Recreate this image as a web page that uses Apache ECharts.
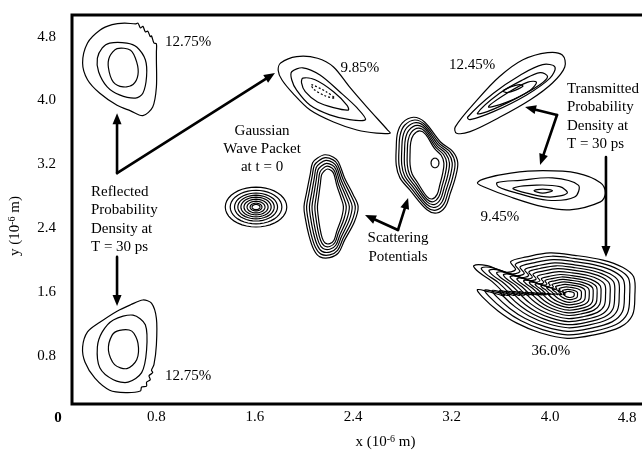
<!DOCTYPE html>
<html><head><meta charset="utf-8">
<script src="https://cdn.jsdelivr.net/npm/echarts@6/dist/echarts.min.js"></script>
<style>html,body{margin:0;padding:0;background:#fff}#c{width:642px;height:456px}</style>
</head><body><div id="c"></div>
<script>
// ---------- tick labels ----------
const xTicks = [0.8, 1.6, 2.4, 3.2, 4.0];
const yTicks = [0.8, 1.6, 2.4, 3.2, 4.0, 4.8];

// ---------- reflected packets (12.75 %) ----------
const reflTopOuter = [[0.34,4.88],[0.44,4.95],[0.54,4.97],[0.63,4.96],[0.65,4.97],[0.67,4.91],[0.69,4.93],[0.71,4.86],[0.73,4.87],[0.75,4.80],[0.76,4.81],[0.78,4.72],[0.80,4.71],[0.80,4.61],[0.80,4.51],[0.80,4.17],[0.77,3.92],[0.69,3.81],[0.59,3.87],[0.48,3.94],[0.34,4.09],[0.24,4.26],[0.20,4.47],[0.24,4.72]];
const reflTopMid = [[0.42,4.72],[0.56,4.72],[0.64,4.67],[0.71,4.51],[0.72,4.30],[0.69,4.09],[0.63,4.03],[0.50,4.07],[0.40,4.17],[0.33,4.36],[0.32,4.53],[0.36,4.66]];
const reflTopInner = [[0.48,4.65],[0.59,4.63],[0.64,4.48],[0.65,4.32],[0.61,4.20],[0.53,4.17],[0.45,4.23],[0.41,4.41],[0.42,4.55]];
const reflBotOuter = [[0.34,1.22],[0.48,1.36],[0.59,1.44],[0.69,1.50],[0.76,1.46],[0.80,1.27],[0.80,0.94],[0.78,0.69],[0.76,0.62],[0.77,0.59],[0.74,0.55],[0.75,0.50],[0.72,0.47],[0.72,0.42],[0.68,0.41],[0.67,0.36],[0.55,0.34],[0.42,0.37],[0.30,0.52],[0.22,0.72],[0.20,0.91],[0.24,1.10]];
const reflBotMid = [[0.45,1.25],[0.61,1.31],[0.71,1.19],[0.72,0.87],[0.68,0.59],[0.57,0.47],[0.45,0.50],[0.34,0.65],[0.32,0.91],[0.36,1.10]];
const reflBotInner = [[0.50,1.12],[0.60,1.11],[0.65,0.96],[0.64,0.75],[0.56,0.64],[0.46,0.69],[0.41,0.87],[0.44,1.06]];

// ---------- reflected teardrop (9.85 %) ----------
const tearOuter = [[1.81,4.47],[1.94,4.55],[2.11,4.53],[2.24,4.42],[2.37,4.17],[2.51,3.92],[2.68,3.63],[2.70,3.59],[2.59,3.59],[2.43,3.63],[2.24,3.73],[2.05,3.88],[1.91,4.09],[1.82,4.26],[1.79,4.38]];
const tearMid = [[1.90,4.36],[1.99,4.41],[2.13,4.32],[2.29,4.11],[2.43,3.91],[2.50,3.76],[2.37,3.76],[2.21,3.82],[2.05,3.94],[1.94,4.13],[1.90,4.26]];
const tearInner = [[1.99,4.28],[2.09,4.26],[2.24,4.11],[2.35,3.94],[2.36,3.88],[2.24,3.91],[2.11,3.98],[2.01,4.11],[1.98,4.22]];
const tearCore = [[2.06,4.20],[2.18,4.11],[2.25,4.03],[2.17,4.06],[2.08,4.14]];

// ---------- transmitted upper (12.45 %) ----------
const upRing1 = [[3.23,3.67],[3.41,4.01],[3.59,4.30],[3.78,4.51],[3.98,4.60],[4.10,4.57],[4.12,4.42],[4.02,4.22],[3.84,4.01],[3.59,3.79],[3.35,3.61],[3.24,3.59]];
const upRing2 = [[3.33,3.79],[3.54,4.09],[3.76,4.32],[3.94,4.45],[4.04,4.42],[4.00,4.28],[3.81,4.07],[3.54,3.86],[3.35,3.76]];
const upRing3 = [[3.41,3.84],[3.59,4.09],[3.78,4.26],[3.92,4.35],[3.98,4.30],[3.92,4.20],[3.73,4.03],[3.49,3.86]];
const upRing4 = [[3.50,3.92],[3.65,4.09],[3.82,4.23],[3.89,4.23],[3.84,4.13],[3.65,3.98]];
const upRing5 = [[3.62,4.12],[3.68,4.17],[3.75,4.20],[3.78,4.18],[3.72,4.13],[3.65,4.10]];

// ---------- transmitted middle (9.45 %) ----------
const midRing1 = [[3.41,2.97],[3.49,3.03],[3.68,3.09],[3.94,3.12],[4.22,3.09],[4.41,2.97],[4.45,2.84],[4.41,2.73],[4.16,2.63],[3.94,2.67],[3.68,2.79],[3.46,2.92]];
const midRing2 = [[3.57,2.97],[3.76,3.00],[4.02,3.03],[4.23,2.94],[4.20,2.79],[3.98,2.75],[3.73,2.84],[3.58,2.92]];
const midRing3 = [[3.70,2.90],[3.89,2.94],[4.08,2.92],[4.14,2.84],[4.00,2.79],[3.81,2.84]];
const midRing4 = [[3.87,2.87],[3.94,2.89],[4.02,2.87],[3.94,2.84]];

// ---------- transmitted lower (36.0 %) ----------
const bigOutline = [[3.81,2.04],[4.00,2.09],[4.20,2.06],[4.43,2.00],[4.59,1.91],[4.68,1.79],[4.69,1.56],[4.67,1.31],[4.57,1.16],[4.35,1.06],[4.14,1.02],[3.92,1.09],[3.73,1.21],[3.58,1.36],[3.45,1.54],[3.41,1.63],[3.51,1.60],[3.63,1.56],[3.53,1.73],[3.42,1.85],[3.38,1.93],[3.49,1.93],[3.63,1.85],[3.72,1.88],[3.68,1.98]];
const bigCore = [4.16, 1.57];
const bigLevels = [1, 0.92, 0.84, 0.76, 0.69, 0.62, 0.55, 0.48, 0.42, 0.36, 0.30, 0.24, 0.18, 0.12, 0.07];

// ---------- Gaussian packet at t = 0 ----------
const gaussCenter = [1.61, 2.665];
const gaussRadii = [0.25, 0.21, 0.175, 0.148, 0.123, 0.098, 0.073, 0.048, 0.032];

// ---------- scattering potentials ----------
const potAOutline = [[2.11,3.28],[2.17,3.32],[2.24,3.29],[2.28,3.23],[2.33,3.03],[2.40,2.82],[2.44,2.67],[2.41,2.48],[2.33,2.25],[2.28,2.09],[2.21,2.03],[2.13,2.04],[2.08,2.13],[2.04,2.31],[2.01,2.53],[2.00,2.67],[2.02,2.84],[2.05,3.07],[2.07,3.22]];
const potACenter = [2.21, 2.67];
const potALevelsX = [1, 0.90, 0.79, 0.69, 0.58, 0.48];
const potALevelsY = [1, 0.945, 0.89, 0.835, 0.78, 0.725];
const potBOutline = [[2.80,3.72],[2.89,3.79],[2.98,3.73],[3.11,3.48],[3.21,3.36],[3.25,3.22],[3.23,3.03],[3.19,2.84],[3.15,2.67],[3.08,2.59],[3.00,2.63],[2.86,2.88],[2.78,3.03],[2.75,3.19],[2.75,3.41],[2.76,3.59]];
const potBCenter = [3.00, 3.20];
const potBLevelsX = [1, 0.91, 0.82, 0.73, 0.64, 0.55];
const potBLevelsY = [1, 0.942, 0.884, 0.826, 0.768, 0.71];
const potBDot = [3.065, 3.217, 0.032, 0.06];

// ---------- arrows [x1, y1, x2(tip), y2(tip)] ----------
const arrows = [[0.48,3.09,0.48,3.84],[0.48,3.09,1.764,4.345],[0.48,2.04,0.48,1.425],[2.764,2.377,2.496,2.565],[2.764,2.377,2.846,2.778],[4.057,3.818,3.797,3.919],[4.057,3.818,3.919,3.192],[4.455,3.292,4.455,2.039]];

// ---------- annotations ----------
const labelTexts = ['12.75%','12.75%','9.85%','12.45%','9.45%','36.0%','Gaussian\nWave Packet\nat t = 0','Scattering\nPotentials','Reflected\nProbability\nDensity at\nT = 30 ps','Transmitted\nProbability\nDensity at\nT = 30 ps'];
const labelX = [1.057, 1.057, 2.455, 3.366, 3.593, 4.008, 1.659, 2.764, 0.268, 4.138];
const labelY = [4.733, 0.548, 4.407, 4.445, 2.540, 0.861, 3.392, 2.158, 2.509, 3.800];

// ================= build =================
const FONT = '"Liberation Serif","Times New Roman",serif';
const LEFT_ALIGNED = [8, 9];
const rings = [];
function addRing(pts, smooth, dash) { rings.push({ pts: pts, smooth: smooth, dash: dash || null }); }
function scaleRing(outline, c, sx, sy) { return outline.map(p => [c[0] + sx * (p[0] - c[0]), c[1] + sy * (p[1] - c[1])]); }
function ellipsePts(cx, cy, rx, ry) { const pts = []; const n = 40; for (let k = 0; k < n; k++) { const a = k / n * Math.PI * 2; pts.push([cx + rx * Math.cos(a), cy + ry * Math.sin(a)]); } return pts; }

[reflTopOuter, reflTopMid, reflTopInner, reflBotOuter, reflBotMid, reflBotInner].forEach(r => addRing(r, 0.3));
[tearOuter, tearMid, tearInner].forEach(r => addRing(r, 0.3));
addRing(tearCore, 0.3, [2, 2]);
[upRing1, upRing2, upRing3, upRing4, upRing5].forEach(r => addRing(r, 0.35));
[midRing1, midRing2, midRing3, midRing4].forEach(r => addRing(r, 0.35));
bigLevels.forEach(s => addRing(scaleRing(bigOutline, bigCore, s, s), 0.35));
gaussRadii.forEach(r => addRing(ellipsePts(gaussCenter[0], gaussCenter[1], r, r), 0));
potALevelsX.forEach((s, i) => addRing(scaleRing(potAOutline, potACenter, s, potALevelsY[i]), 0.35));
potBLevelsX.forEach((s, i) => addRing(scaleRing(potBOutline, potBCenter, s, potBLevelsY[i]), 0.35));
addRing(ellipsePts(potBDot[0], potBDot[1], potBDot[2], potBDot[3]), 0);

const ringData = rings.map((r, i) => [r.pts[0][0], r.pts[0][1], i]);
const labelData = labelTexts.map((t, i) => [labelX[i], labelY[i], i]);

const chart = echarts.init(document.getElementById('c'), null, { renderer: 'canvas' });
const axisLabelStyle = { color: '#000', fontFamily: FONT, fontSize: 15 };
chart.setOption({
  animation: false,
  backgroundColor: '#fff',
  grid: { left: 72, top: 15, width: 575, height: 389, show: true, borderColor: '#000', borderWidth: 3, containLabel: false, outerBoundsMode: 'none' },
  xAxis: {
    type: 'value', min: 0.1138, max: 4.7886,
    axisLine: { show: false }, axisTick: { show: false }, splitLine: { show: false },
    axisLabel: Object.assign({ customValues: xTicks, margin: 6, formatter: v => v.toFixed(1) }, axisLabelStyle),
    name: 'x (10{sup|-6} m)', nameLocation: 'middle', nameGap: 30,
    nameTextStyle: { color: '#000', fontFamily: FONT, fontSize: 15, padding: [0, 0, 0, 52],
      rich: { sup: { fontSize: 10, fontFamily: FONT, color: '#000', verticalAlign: 'bottom', padding: [0, 0, 7, 0] } } }
  },
  yAxis: {
    type: 'value', min: 0.1967, max: 5.0714,
    axisLine: { show: false }, axisTick: { show: false }, splitLine: { show: false },
    axisLabel: Object.assign({ customValues: yTicks, margin: 16, formatter: v => v.toFixed(1) }, axisLabelStyle),
    name: 'y (10{sup|-6} m)', nameLocation: 'middle', nameGap: 48,
    nameTextStyle: { color: '#000', fontFamily: FONT, fontSize: 15, padding: [0, 33, 0, 0],
      rich: { sup: { fontSize: 10, fontFamily: FONT, color: '#000', verticalAlign: 'bottom', padding: [0, 0, 7, 0] } } }
  },
  graphic: [
    { type: 'text', x: 58, y: 418, style: { text: '0', fill: '#000', font: 'bold 15px ' + FONT, align: 'center', verticalAlign: 'middle' } },
    { type: 'text', x: 627, y: 418, style: { text: '4.8', fill: '#000', font: '15px ' + FONT, align: 'center', verticalAlign: 'middle' } }
  ],
  series: [
    {
      type: 'custom', coordinateSystem: 'cartesian2d', silent: true, clip: false,
      encode: { x: 0, y: 1 }, data: ringData,
      renderItem: function (params, api) {
        const ring = rings[api.value(2)];
        const pts = ring.pts.map(p => api.coord(p));
        return { type: 'polygon', shape: { points: pts, smooth: ring.smooth },
          style: { fill: 'none', stroke: '#000', lineWidth: 1.2, lineDash: ring.dash } };
      }
    },
    {
      type: 'custom', coordinateSystem: 'cartesian2d', silent: true, clip: false,
      encode: { x: [0, 2], y: [1, 3] }, data: arrows,
      renderItem: function (params, api) {
        const a = api.coord([api.value(0), api.value(1)]);
        const b = api.coord([api.value(2), api.value(3)]);
        const dx = b[0] - a[0], dy = b[1] - a[1], L = Math.hypot(dx, dy), ux = dx / L, uy = dy / L;
        const hl = 11, hw = 4.5;
        const bx = b[0] - ux * hl, by = b[1] - uy * hl;
        return { type: 'group', children: [
          { type: 'line', shape: { x1: a[0], y1: a[1], x2: bx + ux * 2, y2: by + uy * 2 }, style: { stroke: '#000', lineWidth: 2.6, lineCap: 'round' } },
          { type: 'polygon', shape: { points: [[b[0], b[1]], [bx - uy * hw, by + ux * hw], [bx + uy * hw, by - ux * hw]] }, style: { fill: '#000', stroke: null } }
        ] };
      }
    },
    {
      type: 'custom', coordinateSystem: 'cartesian2d', silent: true, clip: false,
      encode: { x: 0, y: 1 }, data: labelData,
      renderItem: function (params, api) {
        const i = api.value(2);
        const p = api.coord([api.value(0), api.value(1)]);
        const left = LEFT_ALIGNED.indexOf(i) >= 0;
        return { type: 'text', x: p[0], y: p[1],
          style: { text: labelTexts[i], fill: '#000', font: '15px ' + FONT, align: left ? 'left' : 'center', verticalAlign: 'middle', lineHeight: 18.3 } };
      }
    }
  ]
});
</script>
</body></html>
